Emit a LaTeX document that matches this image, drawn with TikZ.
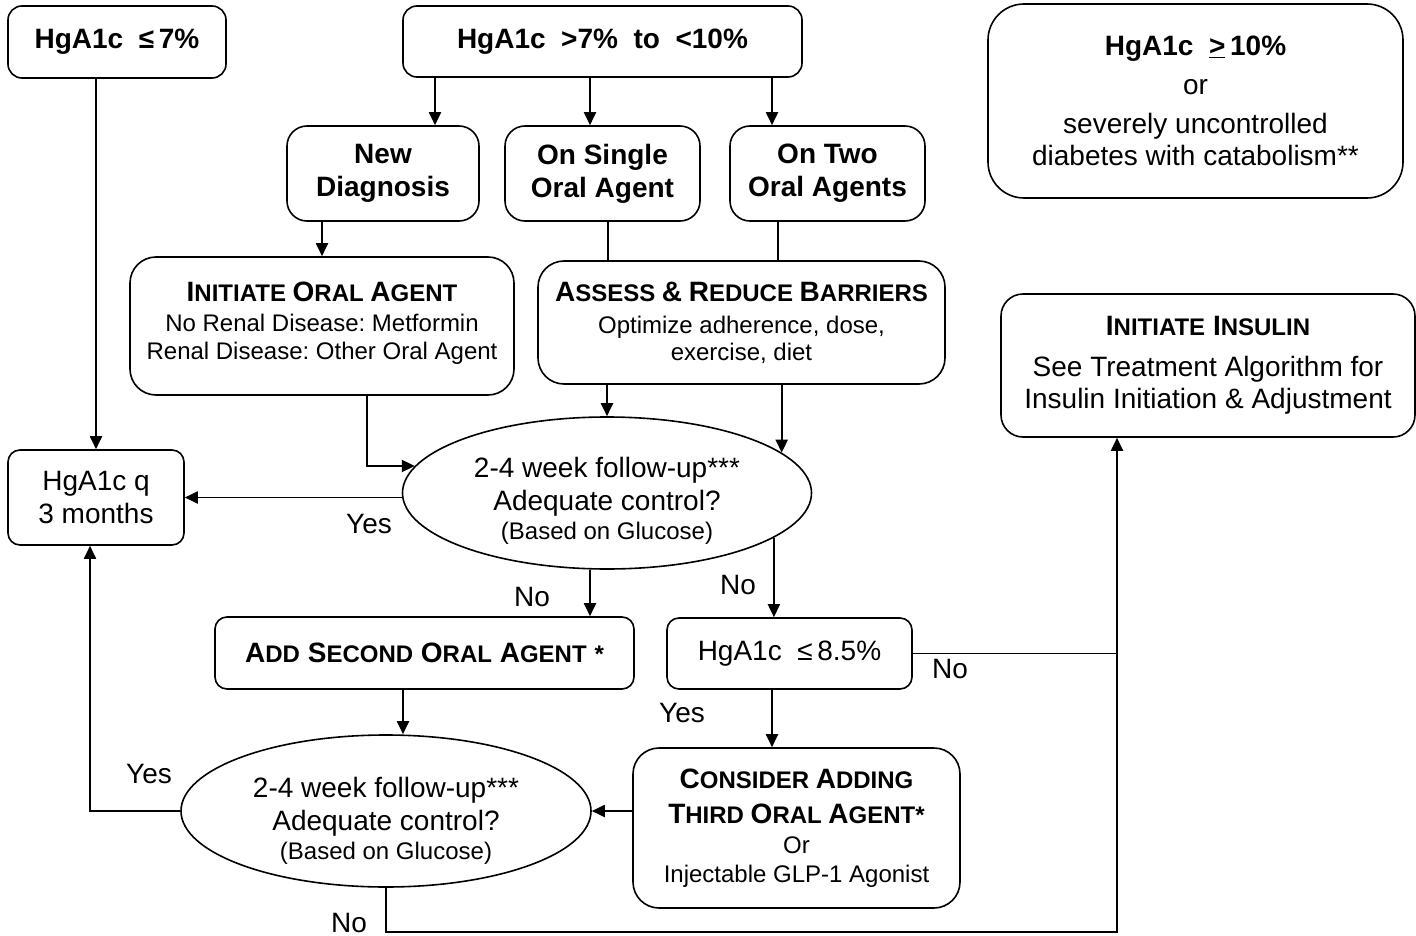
\documentclass[tikz,border=0pt]{standalone}
\usepackage{fontspec}
\setmainfont{Liberation Sans}
\usetikzlibrary{arrows.meta,shapes.geometric}
\frenchspacing
\newcommand{\SCx}[2]{{\fontsize{28}{32}\selectfont #1}{\fontsize{24}{32}\selectfont #2}}
\newcommand{\bigtxt}{\fontsize{28}{33}\selectfont}
\newcommand{\smltxt}{\fontsize{24}{28}\selectfont}
\begin{document}
\begin{tikzpicture}[x=1pt,y=-1pt,
  box/.style={draw, line width=1.6pt, rounded corners=14pt, align=center, inner sep=0pt},
  oval/.style={draw, line width=1.6pt, ellipse, align=center, inner sep=0pt},
  arr/.style={-{Triangle[length=13pt,width=12pt]}, line width=1.9pt},
  thinline/.style={line width=1.3pt},
  lbl/.style={font=\bigtxt, inner sep=0pt}]
\useasboundingbox (0,0) rectangle (1416,936);

% top row
\node[box, minimum width=218pt, minimum height=72pt, font=\bigtxt\bfseries] (A) at (117,42) {HgA1c\ \ ≤\,7\%};
\node[box, minimum width=399pt, minimum height=71pt, font=\bigtxt\bfseries] (B) at (602.5,41.5) {HgA1c\ \ >7\%\ \ to\ \ <10\%};
\node[box, rounded corners=36pt, minimum width=415pt, minimum height=194pt, font=\fontsize{28}{32}\selectfont] (C) at (1195.5,101)
  {\textbf{HgA1c\ \ \underline{>}\,10\%}\\[7pt] or\\[7pt] severely uncontrolled\\ diabetes with catabolism**};

% second row
\node[box, rounded corners=20pt, minimum width=192pt, minimum height=95pt, font=\bigtxt\bfseries] (nd) at (383,173.5) {New\\ Diagnosis};
\node[box, rounded corners=20pt, minimum width=195pt, minimum height=95pt, font=\bigtxt\bfseries] (sg) at (602.5,173.5) {On Single\\ Oral Agent};
\node[box, rounded corners=20pt, minimum width=195pt, minimum height=95pt, font=\bigtxt\bfseries] (tw) at (827.5,173.5) {On Two\\ Oral Agents};

% third row
\node[box, rounded corners=26pt, minimum width=384pt, minimum height=138pt, font=\smltxt] (ioa) at (322,326)
  {\textbf{\SCx{I}{NITIATE} \SCx{O}{RAL} \SCx{A}{GENT}}\\[2pt] No Renal Disease: Metformin\\ Renal Disease: Other Oral Agent\\[-17pt]\mbox{}};
\node[box, rounded corners=26pt, minimum width=407pt, minimum height=123pt, font=\fontsize{24}{27}\selectfont] (as) at (741.5,322.5)
  {\textbf{\SCx{A}{SSESS} \SCx{\&}{} \SCx{R}{EDUCE} \SCx{B}{ARRIERS}}\\[5pt] Optimize adherence, dose,\\ exercise, diet};
\node[box, rounded corners=22pt, minimum width=414pt, minimum height=143pt, font=\fontsize{28}{32}\selectfont] (ins) at (1208,365.5)
  {\textbf{\SCx{I}{NITIATE} \SCx{I}{NSULIN}}\\[9pt] See Treatment Algorithm for\\ Insulin Initiation \& Adjustment};

% middle
\node[box, rounded corners=12pt, minimum width=176pt, minimum height=95pt, font=\bigtxt] (hq) at (96,497.5) {HgA1c q\\ 3 months};
\node[oval, minimum width=409pt, minimum height=152pt, font=\bigtxt] (e1) at (607,493)
  {2-4 week follow-up***\\ Adequate control?\\[-4pt] {\smltxt (Based on Glucose)}\\[-43pt]\mbox{}};

\node[box, rounded corners=12pt, minimum width=419pt, minimum height=72pt, font=\bigtxt\bfseries] (as2) at (424.5,653)
  {\SCx{A}{DD} \SCx{S}{ECOND} \SCx{O}{RAL} \SCx{A}{GENT} \SCx{}{*}};
\node[box, rounded corners=12pt, minimum width=245pt, minimum height=71pt, font=\bigtxt] (h85) at (789.5,653.5) {HgA1c\ \ ≤\,8.5\%};

% bottom
\node[oval, minimum width=410pt, minimum height=152pt, font=\bigtxt] (e2) at (386,811)
  {2-4 week follow-up***\\ Adequate control?\\[-4pt] {\smltxt (Based on Glucose)}\\[-47pt]\mbox{}};
\node[box, rounded corners=26pt, minimum width=327pt, minimum height=160pt, font=\fontsize{24}{29}\selectfont] (co) at (796.5,828)
  {\textbf{\SCx{C}{ONSIDER} \SCx{A}{DDING}}\\[6pt] \textbf{\SCx{T}{HIRD} \SCx{O}{RAL} \SCx{A}{GENT}*}\\[1pt] Or\\ Injectable GLP-1 Agonist};

% helper coordinates
\coordinate (ndin) at ([xshift=52pt]nd.north);
\coordinate (sgin) at ([xshift=-12.5pt]sg.north);
\coordinate (twin) at ([xshift=-55.5pt]tw.north);
\coordinate (sgout) at ([xshift=5.5pt]sg.south);
\coordinate (twout) at ([xshift=-49.5pt]tw.south);
\coordinate (s2in) at ([xshift=165.5pt]as2.north);
\coordinate (s2out) at ([xshift=-21.5pt]as2.south);
\coordinate (insin) at ([xshift=-91pt]ins.south);
\coordinate (coin) at ([xshift=-24.5pt]co.north);

% connectors
\draw[arr] (hq.north |- A.south) -- (hq.north);
\draw[arr] (ndin |- B.south) -- (ndin);
\draw[arr] (sgin |- B.south) -- (sgin);
\draw[arr] (twin |- B.south) -- (twin);
\draw[arr] (ioa.north |- nd.south) -- (ioa.north);
\draw[thinline] (sgout) -- (sgout |- as.north);
\draw[thinline] (twout) -- (twout |- as.north);
\draw[arr] (e1.north |- as.south) -- (e1.north);
\draw[arr] (as.south -| e1.13) -- (e1.13);
\draw[arr] ([xshift=45pt]ioa.south) |- (e1.172);
\draw[arr] (e1.west |- hq.east) -- (hq.east);
\draw[arr] (e1.south -| s2in) -- (s2in);
\draw[arr] (e1.-15) -- (e1.-15 |- h85.north);
\draw[thinline] (h85.east) -- (h85.east -| insin);
\draw[arr] (h85.south -| coin) -- (coin);
\draw[arr] (co.west |- e2.east) -- (e2.east);
\draw[arr] (s2out) -- (s2out |- e2.north);
\draw[arr] (e2.west) -| ([xshift=-6pt]hq.south);
\draw[arr] (e2.south) -- ++(0,44) -| (insin);

% labels
\node[lbl] (y1) at (369,524) {Yes};
\node[lbl] (n1) at (532,597) {No};
\node[lbl] (n2) at (738,585) {No};
\node[lbl] (n3) at (950,669) {No};
\node[lbl] (y2) at (682,713) {Yes};
\node[lbl] (y3) at (149,774) {Yes};
\node[lbl] (n4) at (349,923) {No};
\end{tikzpicture}
\end{document}
